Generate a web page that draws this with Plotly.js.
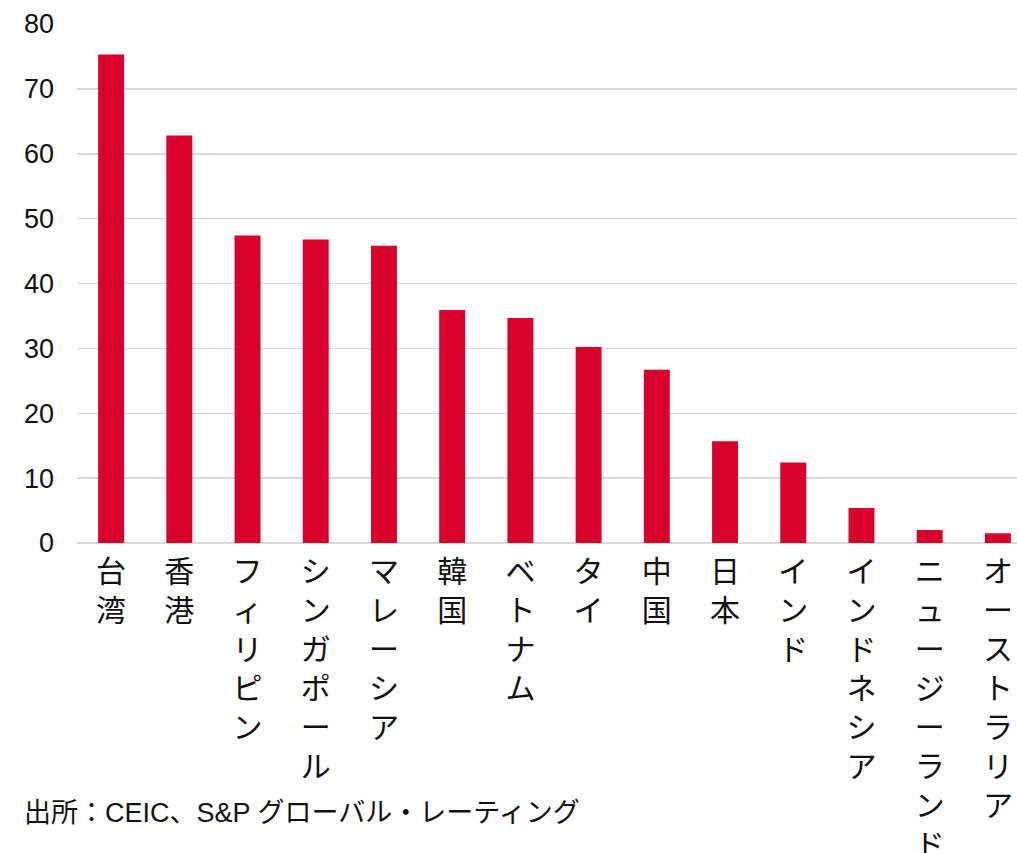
<!DOCTYPE html>
<html>
<head>
<meta charset="utf-8">
<script src="https://cdn.plot.ly/plotly-3.0.1.min.js"></script>
<style>html,body{margin:0;padding:0;background:#fff;}#chart{width:1017px;height:853px;}</style>
</head>
<body>
<div id="chart"></div>
<script>
const categories = ["台湾","香港","フィリピン","シンガポール","マレーシア","韓国","ベトナム","タイ","中国","日本","インド","インドネシア","ニュージーランド","オーストラリア"];
const values = [75.3, 62.8, 47.4, 46.8, 45.8, 35.9, 34.7, 30.2, 26.7, 15.7, 12.4, 5.4, 2.0, 1.5];
const yTicks = [0, 10, 20, 30, 40, 50, 60, 70, 80];
const sourceText = "出所：CEIC、S&P グローバル・レーティング";

const verticalLabels = categories.map(c => Array.from(c).join("<br>"));

const trace = {
  type: "bar",
  x: categories,
  y: values,
  marker: {color: "#D7002A"},
  hoverinfo: "x+y"
};

const layout = {
  width: 1017,
  height: 853,
  margin: {l: 77, r: 0, t: 24, b: 309.5, pad: 0},
  paper_bgcolor: "#ffffff",
  plot_bgcolor: "#ffffff",
  showlegend: false,
  bargap: 0.62,
  xaxis: {
    type: "category",
    range: [-0.5, 13.28],
    tickmode: "array",
    tickvals: categories,
    ticktext: verticalLabels,
    tickangle: 0,
    ticks: "",
    showgrid: false,
    showline: false,
    zeroline: false,
    ticklabelstandoff: 8,
    tickfont: {family: "Noto Sans CJK JP", size: 30, color: "#111"}
  },
  yaxis: {
    range: [0, 80],
    tickmode: "array",
    tickvals: yTicks,
    ticks: "",
    showgrid: true,
    gridcolor: "#d9d9d9",
    gridwidth: 1.5,
    zeroline: true,
    zerolinecolor: "#d9d9d9",
    zerolinewidth: 1.5,
    showline: false,
    ticklabelstandoff: 22,
    tickfont: {family: "Liberation Sans, Arial, sans-serif", size: 27, color: "#111"}
  },
  annotations: [{
    text: sourceText,
    xref: "paper", yref: "paper",
    x: (22 - 77) / 940, y: -(814 - 543.5) / 519.5,
    xanchor: "left", yanchor: "middle",
    showarrow: false,
    font: {family: "Liberation Sans, Noto Sans CJK JP, sans-serif", size: 27, color: "#111"}
  }]
};

Plotly.newPlot("chart", [trace], layout, {displayModeBar: false, staticPlot: true});
</script>
</body>
</html>
